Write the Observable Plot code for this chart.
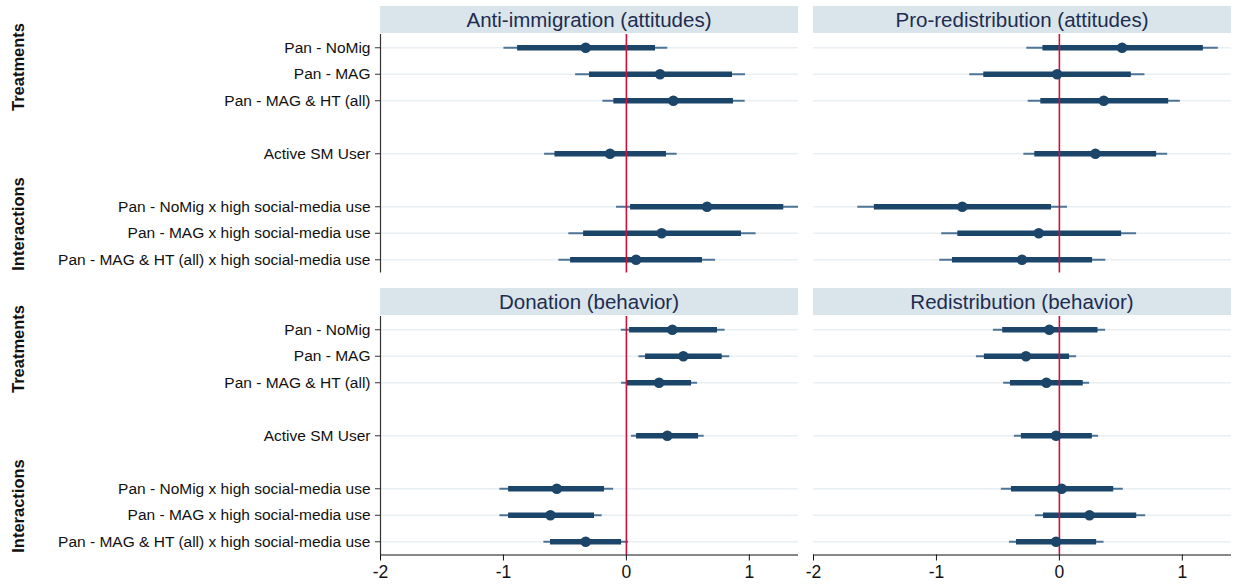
<!DOCTYPE html>
<html>
<head>
<meta charset="utf-8">
<script src="https://cdn.jsdelivr.net/npm/d3@7"></script>
<script src="https://cdn.jsdelivr.net/npm/@observablehq/plot@0.6"></script>
<style>
  html, body { margin: 0; padding: 0; background: #fff; }
  body { font-family: "Liberation Sans", Arial, Helvetica, sans-serif; }
  #root { position: relative; width: 1235px; height: 587px; overflow: hidden; }
  .panel { position: absolute; }
  .strip { position: absolute; background: #d9e5eb; color: #1e2c50; font-size: 20.5px;
           text-align: center; line-height: 27px; height: 27px; white-space: nowrap; }
  .group { position: absolute; font-weight: bold; font-size: 16.5px; color: #111;
           white-space: nowrap; transform: translate(-50%, -50%) rotate(-90deg); }
</style>
</head>
<body>
<div id="root"></div>
<script>
// ---------------- data ----------------
const terms = [
  "Pan - NoMig",
  "Pan - MAG",
  "Pan - MAG & HT (all)",
  "Active SM User",
  "Pan - NoMig x high social-media use",
  "Pan - MAG x high social-media use",
  "Pan - MAG & HT (all) x high social-media use"
];
const rowPos = [1, 2, 3, 5, 7, 8, 9];
const groupLabels = ["Treatments", "Interactions"];
const panelTitles = [
  "Anti-immigration (attitudes)",
  "Pro-redistribution (attitudes)",
  "Donation (behavior)",
  "Redistribution (behavior)"
];
const xTicks = [-2, -1, 0, 1];

// Anti-immigration (attitudes)
const antiImmEst  = [-0.331, 0.274, 0.382, -0.133, 0.656, 0.287, 0.079];
const antiImmLo95 = [-1.000, -0.417, -0.195, -0.669, -0.084, -0.472, -0.553];
const antiImmHi95 = [0.333, 0.965, 0.962, 0.409, 1.45, 1.051, 0.721];
const antiImmLo90 = [-0.889, -0.304, -0.106, -0.585, 0.030, -0.352, -0.458];
const antiImmHi90 = [0.233, 0.859, 0.867, 0.322, 1.276, 0.932, 0.615];

// Pro-redistribution (attitudes)
const proRedEst  = [0.510, -0.019, 0.361, 0.293, -0.790, -0.168, -0.304];
const proRedLo95 = [-0.269, -0.733, -0.258, -0.293, -1.644, -0.961, -0.977];
const proRedHi95 = [1.289, 0.692, 0.980, 0.877, 0.062, 0.624, 0.374];
const proRedLo90 = [-0.138, -0.619, -0.155, -0.204, -1.509, -0.830, -0.874];
const proRedHi90 = [1.167, 0.581, 0.885, 0.787, -0.068, 0.502, 0.266];

// Donation (behavior)
const donEst  = [0.374, 0.463, 0.266, 0.333, -0.566, -0.618, -0.331];
const donLo95 = [-0.046, 0.098, -0.043, 0.038, -1.033, -1.033, -0.675];
const donHi95 = [0.799, 0.837, 0.575, 0.629, -0.108, -0.201, 0.014];
const donLo90 = [0.022, 0.152, 0.000, 0.079, -0.962, -0.962, -0.621];
const donHi90 = [0.737, 0.775, 0.526, 0.583, -0.182, -0.263, -0.043];

// Redistribution (behavior)
const redBehEst  = [-0.082, -0.272, -0.106, -0.027, 0.019, 0.245, -0.027];
const redBehLo95 = [-0.541, -0.679, -0.457, -0.370, -0.476, -0.198, -0.410];
const redBehHi95 = [0.372, 0.136, 0.242, 0.315, 0.516, 0.698, 0.359];
const redBehLo90 = [-0.465, -0.614, -0.402, -0.313, -0.394, -0.133, -0.353];
const redBehHi90 = [0.310, 0.079, 0.190, 0.264, 0.438, 0.625, 0.299];

// ---------------- drawing ----------------
const xDomain = [-2, 1.4];
const yDomain = [0.5, 9.5];
const labelOf = new Map(rowPos.map((p, i) => [p, terms[i]]));

const colThick = "#1b4569";
const colThin = "#4d7497";
const colGrid = "#e9eff2";
const colZero = "#d0103a";

function rows(est, lo95, hi95, lo90, hi90) {
  return rowPos.map((p, i) => ({
    pos: p, term: terms[i], est: est[i],
    lo95: lo95[i], hi95: hi95[i], lo90: lo90[i], hi90: hi90[i]
  }));
}

const panels = [
  {title: panelTitles[0], data: rows(antiImmEst, antiImmLo95, antiImmHi95, antiImmLo90, antiImmHi90), col: 0, row: 0},
  {title: panelTitles[1], data: rows(proRedEst, proRedLo95, proRedHi95, proRedLo90, proRedHi90), col: 1, row: 0},
  {title: panelTitles[2], data: rows(donEst, donLo95, donHi95, donLo90, donHi90), col: 0, row: 1},
  {title: panelTitles[3], data: rows(redBehEst, redBehLo95, redBehHi95, redBehLo90, redBehHi90), col: 1, row: 1}
];

const root = document.getElementById("root");
const plotW = 418, plotH = 238.5;
const colLeft = [380, 813];
const rowTop = [33.5, 315.5];

for (const p of panels) {
  const showY = p.col === 0;
  const showX = p.row === 1;
  const mL = showY ? colLeft[p.col] : 8;
  const mR = 4;
  const mT = 4;
  const mB = showX ? 33 : 6;
  const width = mL + plotW + mR;
  const height = mT + plotH + mB;
  const svgLeft = colLeft[p.col] - mL;
  const svgTop = rowTop[p.row] - mT;

  const chart = Plot.plot({
    width, height,
    marginLeft: mL, marginRight: mR, marginTop: mT, marginBottom: mB,
    style: {fontFamily: '"Liberation Sans", Arial, Helvetica, sans-serif', color: "#111", background: "transparent"},
    x: {domain: xDomain, axis: null},
    y: {domain: yDomain, reverse: true, axis: null},
    marks: [
      Plot.ruleY(rowPos, {stroke: colGrid, strokeWidth: 1.6}),
      Plot.link(p.data, {x1: "lo95", x2: "hi95", y1: "pos", y2: "pos", stroke: colThin, strokeWidth: 2, clip: true}),
      Plot.link(p.data, {x1: "lo90", x2: "hi90", y1: "pos", y2: "pos", stroke: colThick, strokeWidth: 5.5, clip: true}),
      Plot.ruleX([0], {stroke: colZero, strokeWidth: 1.6}),
      Plot.dot(p.data, {x: "est", y: "pos", r: 5.3, fill: colThick, stroke: "none"}),
      showY ? Plot.ruleX([xDomain[0]], {stroke: "#333", strokeWidth: 1.2}) : null,
      showY ? Plot.axisY({ticks: rowPos, tickFormat: d => labelOf.get(d), tickSize: 5, tickPadding: 5,
                          fontSize: 15.5, label: null, stroke: "#333"}) : null,
      showX ? Plot.ruleY([yDomain[1]], {stroke: "#111", strokeWidth: 1.2}) : null,
      showX ? Plot.axisX({ticks: xTicks, tickFormat: d => d, tickSize: 6, tickPadding: 5,
                          fontSize: 17.5, label: null, stroke: "#111"}) : null
    ]
  });
  chart.classList.add("panel");
  chart.style.left = svgLeft + "px";
  chart.style.top = svgTop + "px";
  root.appendChild(chart);

  const strip = document.createElement("div");
  strip.className = "strip";
  strip.textContent = p.title;
  strip.style.left = colLeft[p.col] + "px";
  strip.style.width = plotW + "px";
  strip.style.top = (rowTop[p.row] - 27.5) + "px";
  root.appendChild(strip);
}

// group labels
const groupCenters = [[67, 224], [349, 506]];
for (const r of [0, 1]) {
  groupLabels.forEach((g, i) => {
    const d = document.createElement("div");
    d.className = "group";
    d.textContent = g;
    d.style.left = "18px";
    d.style.top = groupCenters[r][i] + "px";
    root.appendChild(d);
  });
}
</script>
</body>
</html>
